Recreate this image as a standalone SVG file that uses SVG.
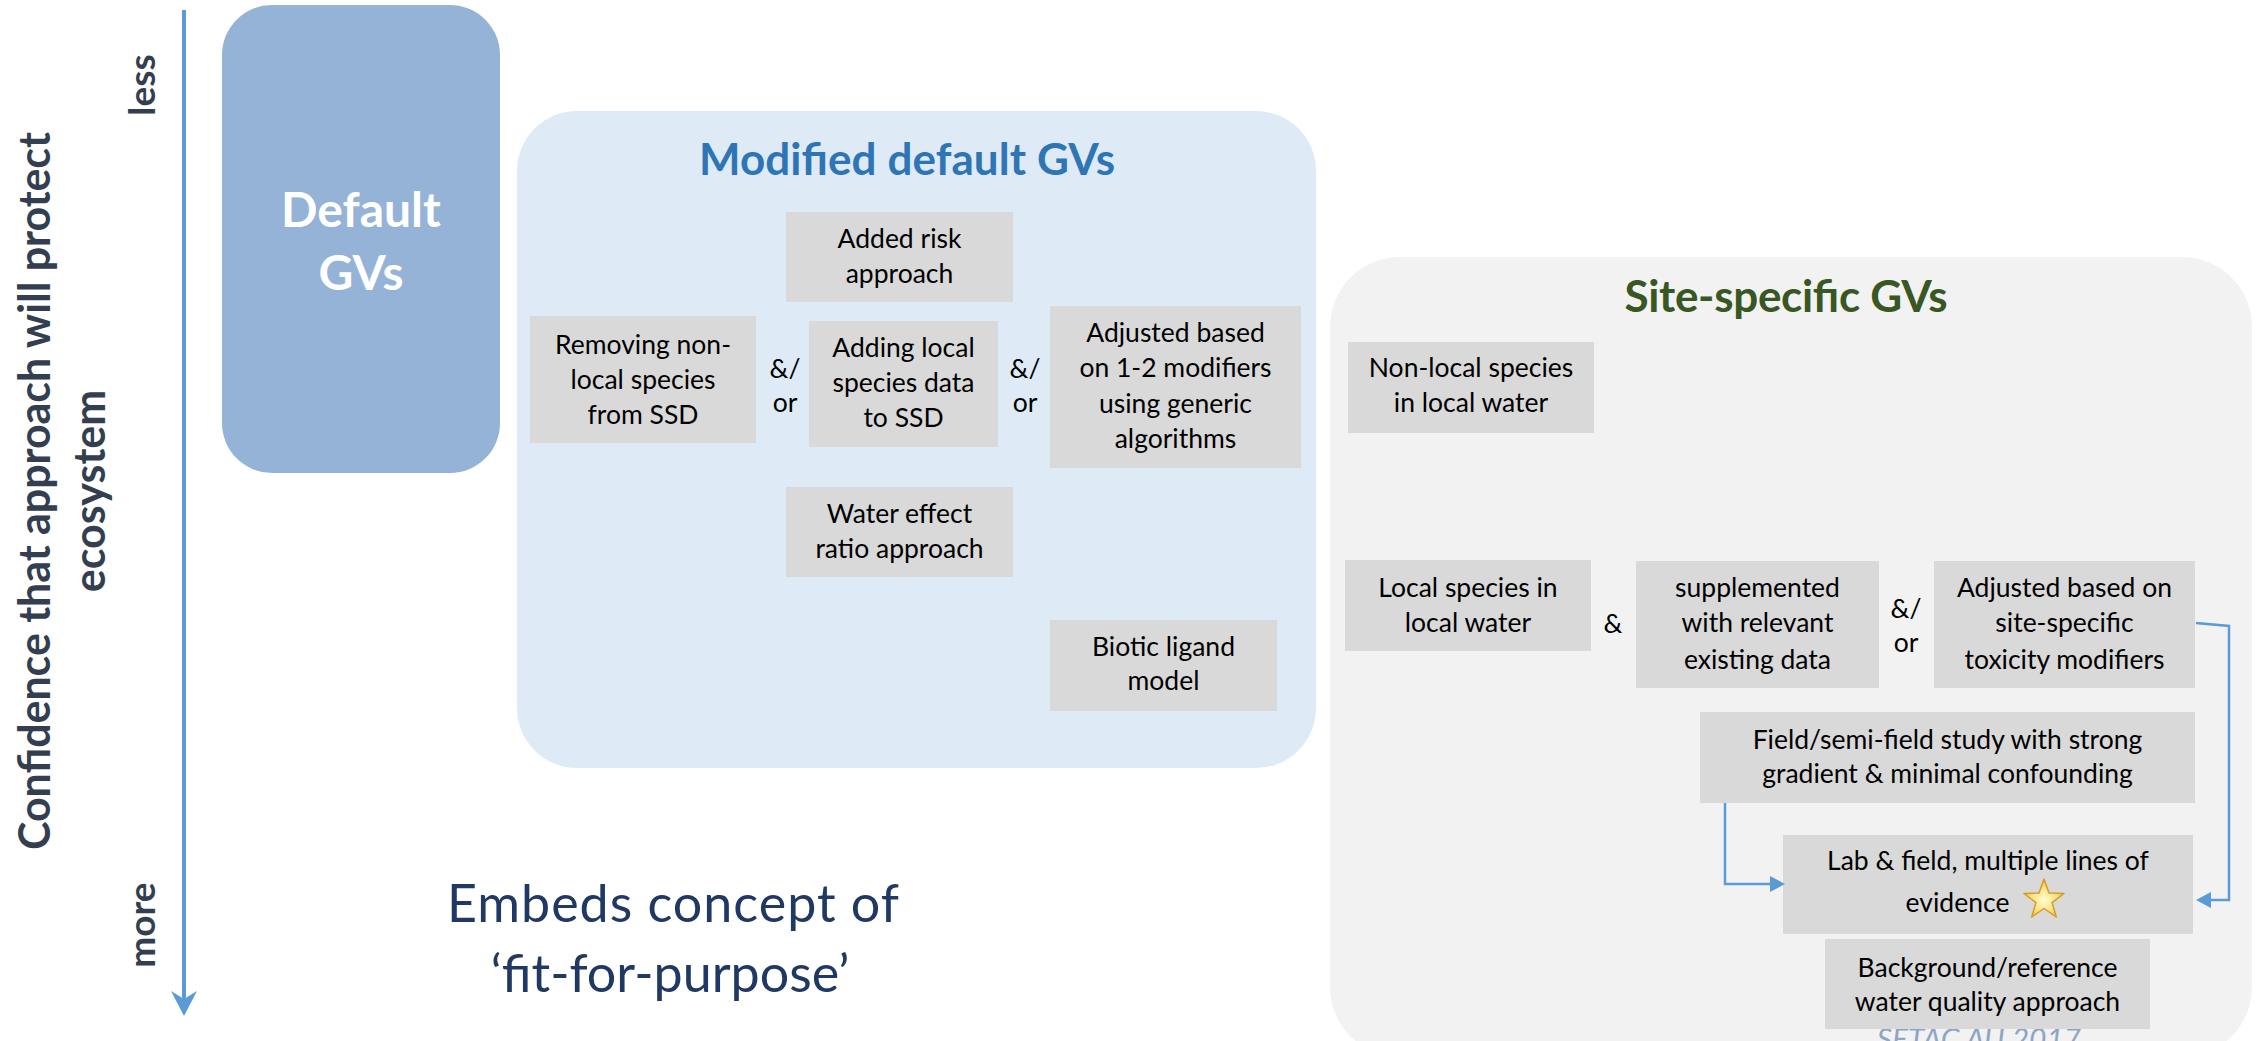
<svg xmlns="http://www.w3.org/2000/svg" width="2267" height="1041" viewBox="0 0 2267 1041">
  <style>
    .panel-title { font-family: Lato, "Liberation Sans", sans-serif; font-weight: bold; font-size: 44px; text-anchor: middle; }
    .box { fill: #D9D9D9; }
    .box-text { font-family: Lato, "Liberation Sans", sans-serif; font-size: 26.5px; fill: #000000; text-anchor: middle; }
    .op { font-family: Lato, "Liberation Sans", sans-serif; font-size: 26.5px; fill: #000000; text-anchor: middle; }
    .axis-label { font-family: Lato, "Liberation Sans", sans-serif; font-weight: bold; font-size: 37px; fill: #333F50; text-anchor: middle; }
    .link { fill: none; stroke: #5B9BD5; stroke-width: 2.5; }
    .head { fill: #5B9BD5; }
  </style>
  <defs>
    <radialGradient id="starFill" cx="50%" cy="55%" r="55%">
      <stop offset="0" stop-color="#FFFBD6"/>
      <stop offset="0.6" stop-color="#FBE27A"/>
      <stop offset="1" stop-color="#F2B824"/>
    </radialGradient>
  </defs>

  <rect width="2267" height="1041" fill="#FFFFFF"/>

  <!-- confidence axis -->
  <g id="axis">
    <line x1="184" y1="10" x2="184" y2="1000" stroke="#5B9BD5" stroke-width="4"/>
    <path d="M184,1016 L171,991 L184,999 L197,991 Z" fill="#5B9BD5"/>
    <text class="axis-label" transform="translate(155,85) rotate(-90)">less</text>
    <text class="axis-label" transform="translate(155,925) rotate(-90)">more</text>
    <text transform="translate(50,491) rotate(-90)" font-family="Lato, 'Liberation Sans', sans-serif" font-weight="bold" font-size="43" fill="#333F50" text-anchor="middle" textLength="718">Confidence that approach will protect</text>
    <text transform="translate(105,491) rotate(-90)" font-family="Lato, 'Liberation Sans', sans-serif" font-weight="bold" font-size="43" fill="#333F50" text-anchor="middle">ecosystem</text>
  </g>

  <!-- default guideline values -->
  <g id="default-gvs">
    <rect x="222" y="5" width="278" height="468" rx="50" ry="50" fill="#95B3D7"/>
    <text x="361" y="227" font-family="Lato, 'Liberation Sans', sans-serif" font-weight="bold" font-size="48" fill="#FFFFFF" text-anchor="middle">Default</text>
    <text x="361" y="290" font-family="Lato, 'Liberation Sans', sans-serif" font-weight="bold" font-size="48" fill="#FFFFFF" text-anchor="middle">GVs</text>
  </g>

  <!-- modified default guideline values -->
  <g id="modified-gvs">
    <rect x="517" y="111" width="799" height="657" rx="60" ry="60" fill="#DEEBF7"/>
    <text class="panel-title" x="907" y="175" fill="#2E75B6" textLength="416">Modified default GVs</text>
  </g>

  <g id="added-risk">
    <rect class="box" x="786" y="212" width="227" height="90"/>
    <text class="box-text" x="899.5" y="248">Added risk</text>
    <text class="box-text" x="899.5" y="283">approach</text>
  </g>

  <g id="removing-nonlocal">
    <rect class="box" x="530" y="316" width="226" height="127"/>
    <text class="box-text" x="643" y="354">Removing non-</text>
    <text class="box-text" x="643" y="389">local species</text>
    <text class="box-text" x="643" y="424">from SSD</text>
  </g>

  <g id="adding-local">
    <rect class="box" x="809" y="321" width="189" height="126"/>
    <text class="box-text" x="903.5" y="357">Adding local</text>
    <text class="box-text" x="903.5" y="392">species data</text>
    <text class="box-text" x="903.5" y="427">to SSD</text>
  </g>

  <g id="adjusted-generic">
    <rect class="box" x="1050" y="306" width="251" height="162"/>
    <text class="box-text" x="1175.5" y="342">Adjusted based</text>
    <text class="box-text" x="1175.5" y="377">on 1-2 modifiers</text>
    <text class="box-text" x="1175.5" y="413">using generic</text>
    <text class="box-text" x="1175.5" y="448">algorithms</text>
  </g>

  <g id="water-effect-ratio">
    <rect class="box" x="786" y="487" width="227" height="90"/>
    <text class="box-text" x="899.5" y="523">Water effect</text>
    <text class="box-text" x="899.5" y="558">ratio approach</text>
  </g>

  <g id="biotic-ligand">
    <rect class="box" x="1050" y="620" width="227" height="91"/>
    <text class="box-text" x="1163.5" y="656">Biotic ligand</text>
    <text class="box-text" x="1163.5" y="690">model</text>
  </g>

  <g id="modified-operators">
    <text class="op" x="785" y="378">&amp;/</text>
    <text class="op" x="785" y="412">or</text>
    <text class="op" x="1025" y="378">&amp;/</text>
    <text class="op" x="1025" y="412">or</text>
  </g>

  <!-- fit-for-purpose note -->
  <g id="fit-for-purpose">
    <text x="673" y="922" font-family="Lato, 'Liberation Sans', sans-serif" font-size="52" fill="#203864" text-anchor="middle" textLength="452">Embeds concept of</text>
    <text x="670" y="992" font-family="Lato, 'Liberation Sans', sans-serif" font-size="52" fill="#203864" text-anchor="middle">‘fit-for-purpose’</text>
  </g>

  <!-- site-specific guideline values -->
  <g id="site-specific-gvs">
    <rect x="1330" y="257" width="922" height="800" rx="70" ry="70" fill="#F2F2F2"/>
    <text class="panel-title" x="1786" y="312" fill="#385723" textLength="323">Site-specific GVs</text>
    <text x="1979" y="1050" font-family="Lato, 'Liberation Sans', sans-serif" font-style="italic" font-size="30" fill="#8EA5C3" text-anchor="middle">SETAC AU 2017</text>
  </g>

  <g id="nonlocal-species">
    <rect class="box" x="1348" y="342" width="246" height="91"/>
    <text class="box-text" x="1471" y="377">Non-local species</text>
    <text class="box-text" x="1471" y="412">in local water</text>
  </g>

  <g id="local-species">
    <rect class="box" x="1345" y="560" width="246" height="91"/>
    <text class="box-text" x="1468" y="597">Local species in</text>
    <text class="box-text" x="1468" y="632">local water</text>
  </g>

  <g id="supplemented">
    <rect class="box" x="1636" y="561" width="243" height="127"/>
    <text class="box-text" x="1757.5" y="597">supplemented</text>
    <text class="box-text" x="1757.5" y="632">with relevant</text>
    <text class="box-text" x="1757.5" y="669">existing data</text>
  </g>

  <g id="adjusted-site">
    <rect class="box" x="1934" y="561" width="261" height="127"/>
    <text class="box-text" x="2064.5" y="597">Adjusted based on</text>
    <text class="box-text" x="2064.5" y="632">site-specific</text>
    <text class="box-text" x="2064.5" y="669">toxicity modifiers</text>
  </g>

  <g id="site-operators">
    <text class="op" x="1613" y="633">&amp;</text>
    <text class="op" x="1906" y="618">&amp;/</text>
    <text class="op" x="1906" y="652">or</text>
  </g>

  <g id="field-study">
    <rect class="box" x="1700" y="712" width="495" height="91"/>
    <text class="box-text" x="1947.5" y="749">Field/semi-field study with strong</text>
    <text class="box-text" x="1947.5" y="783">gradient &amp; minimal confounding</text>
  </g>

  <g id="multiple-lines">
    <rect class="box" x="1783" y="835" width="410" height="99"/>
    <text class="box-text" x="1988" y="870">Lab &amp; field, multiple lines of</text>
    <text class="box-text" x="1957.5" y="912">evidence</text>
    <path d="M2044,879 L2049,893.1 L2064,893.5 L2052.1,902.6 L2056.3,917 L2044,908.5 L2031.7,917 L2035.9,902.6 L2024,893.5 L2039,893.1 Z" fill="url(#starFill)" stroke="#D59B2B" stroke-width="1.5" stroke-linejoin="round"/>
  </g>

  <g id="background-reference">
    <rect class="box" x="1825" y="939" width="325" height="90"/>
    <text class="box-text" x="1987.5" y="977">Background/reference</text>
    <text class="box-text" x="1987.5" y="1011">water quality approach</text>
  </g>

  <!-- connectors into the multiple-lines-of-evidence box -->
  <g id="connectors">
    <path class="link" d="M1725,803 L1725,884 L1771,884"/>
    <polygon class="head" points="1770,876 1785,884 1770,892"/>
    <path class="link" d="M2196,623 L2229,626 L2229,900 L2210,900"/>
    <polygon class="head" points="2211,892 2196,900 2211,908"/>
  </g>
</svg>
